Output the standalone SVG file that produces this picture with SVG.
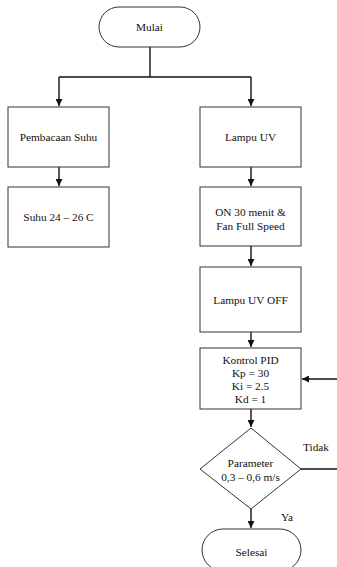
<svg xmlns="http://www.w3.org/2000/svg" width="337" height="567" viewBox="0 0 337 567">
  <style>
    .box { fill: #ffffff; stroke: #333333; stroke-width: 1; }
    .txt { font-family: "Liberation Serif", "Times New Roman", serif; font-size: 11.3px; fill: #111111; text-anchor: middle; }
    .lbl { font-family: "Liberation Serif", "Times New Roman", serif; font-size: 11.3px; fill: #111111; }
    .line { fill: none; stroke: #111111; stroke-width: 1.4; }
  </style>
  <defs>
    <marker id="arrow" viewBox="0 0 10 10" refX="10" refY="5" markerWidth="7" markerHeight="7" markerUnits="userSpaceOnUse" orient="auto">
      <path d="M0,0 L10,5 L0,10 Z" fill="#111111"/>
    </marker>
  </defs>
  <rect width="337" height="567" fill="#ffffff"/>

  <g id="connectors">
    <path class="line" d="M150,47 V77"/>
    <path class="line" d="M59,77 H251"/>
    <path class="line" d="M59,77 V106" marker-end="url(#arrow)"/>
    <path class="line" d="M251,77 V106" marker-end="url(#arrow)"/>
    <path class="line" d="M59,167 V186" marker-end="url(#arrow)"/>
    <path class="line" d="M251,167 V186" marker-end="url(#arrow)"/>
    <path class="line" d="M251,246 V266" marker-end="url(#arrow)"/>
    <path class="line" d="M251,332 V347" marker-end="url(#arrow)"/>
    <path class="line" d="M251,409 V427" marker-end="url(#arrow)"/>
    <path class="line" d="M337,379 H302" marker-end="url(#arrow)"/>
    <path class="line" d="M301,469 H337"/>
    <path class="line" d="M251,509 V528" marker-end="url(#arrow)"/>
    <text class="lbl" x="303" y="451">Tidak</text>
    <text class="lbl" x="281" y="521">Ya</text>
  </g>

  <g id="mulai">
    <rect class="box" x="99" y="7" width="101" height="40" rx="20" ry="20"/>
    <text class="txt" x="149.5" y="31">Mulai</text>
  </g>

  <g id="pembacaan-suhu">
    <rect class="box" x="8" y="107" width="101" height="60"/>
    <text class="txt" x="58.5" y="141">Pembacaan Suhu</text>
  </g>

  <g id="suhu">
    <rect class="box" x="8" y="187" width="101" height="60"/>
    <text class="txt" x="58.5" y="221">Suhu 24 – 26 C</text>
  </g>

  <g id="lampu-uv">
    <rect class="box" x="200" y="107" width="101" height="60"/>
    <text class="txt" x="250.5" y="141">Lampu UV</text>
  </g>

  <g id="on-30-menit">
    <rect class="box" x="200" y="187" width="101" height="59"/>
    <text class="txt" x="250.5" y="216">ON 30 menit &amp;</text>
    <text class="txt" x="250.5" y="229.5">Fan Full Speed</text>
  </g>

  <g id="lampu-uv-off">
    <rect class="box" x="200" y="267" width="101" height="65"/>
    <text class="txt" x="250.5" y="303.5">Lampu UV OFF</text>
  </g>

  <g id="kontrol-pid">
    <rect class="box" x="200" y="348" width="101" height="61"/>
    <text class="txt" x="250.5" y="364">Kontrol PID</text>
    <text class="txt" x="250.5" y="377">Kp = 30</text>
    <text class="txt" x="250.5" y="390">Ki = 2.5</text>
    <text class="txt" x="250.5" y="403">Kd = 1</text>
  </g>

  <g id="parameter">
    <polygon class="box" points="251,428 301,469 251,509 200,469"/>
    <text class="txt" x="250.5" y="466.5">Parameter</text>
    <text class="txt" x="250.5" y="480.5">0,3 – 0,6 m/s</text>
  </g>

  <g id="selesai">
    <rect class="box" x="202" y="529" width="99" height="42" rx="21" ry="21"/>
    <text class="txt" x="251.5" y="556">Selesai</text>
  </g>
</svg>
